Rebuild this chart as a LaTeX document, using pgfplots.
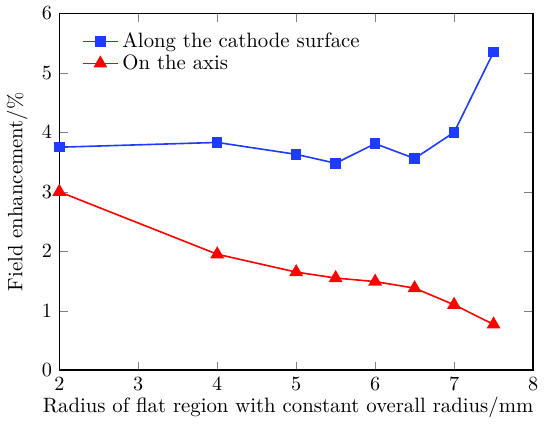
\documentclass[border=0pt]{standalone}
\usepackage{pgfplots}
\pgfplotsset{compat=1.18}
\definecolor{cblue}{RGB}{30,60,255}
\definecolor{cred}{RGB}{255,0,0}
\begin{document}
\fontsize{10.3}{12.3}\selectfont
\begin{tikzpicture}[font=\fontsize{10.3}{12.3}\selectfont]
\begin{axis}[
  scale only axis,
  width=235pt, height=177pt,
  xmin=2, xmax=8, ymin=0, ymax=6,
  xtick={2,3,4,5,6,7,8}, ytick={0,1,2,3,4,5,6},
  tick align=inside,
  tick label style={font=\fontsize{10.3}{12.3}\selectfont},
  label style={font=\fontsize{10.3}{12.3}\selectfont},
  xlabel={Radius of flat region with constant overall radius/mm},
  xlabel style={text depth=9pt, yshift=4pt, xshift=-4pt},
  ylabel={Field enhancement/\%},
  legend style={at={(0.035,0.97)}, anchor=north west, draw=none, fill=none, row sep=-2pt, font=\fontsize{10.3}{12.3}\selectfont},
  legend cell align=left,
  axis line style={line width=0.8pt},
]
\addplot[color=cblue, line width=0.8pt, mark=square*, mark size=2.2pt] coordinates {
(2,3.75) (4,3.83) (5,3.63) (5.5,3.48) (6,3.81) (6.5,3.56) (7,4.0) (7.5,5.35)};
\addlegendentry{Along the cathode surface}
\addplot[color=cred, line width=0.8pt, mark=triangle*, mark size=3.2pt] coordinates {
(2,3.0) (4,1.95) (5,1.65) (5.5,1.55) (6,1.49) (6.5,1.38) (7,1.1) (7.5,0.77)};
\addlegendentry{On the axis}
\end{axis}
\end{tikzpicture}
\end{document}
